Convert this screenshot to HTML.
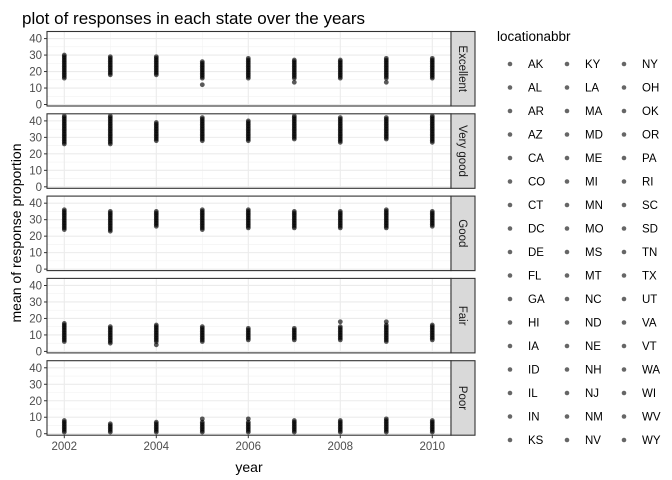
<!DOCTYPE html>
<html><head><meta charset="utf-8"><style>body{margin:0;background:#fff}svg{display:block;font-family:"Liberation Sans",sans-serif}</style></head>
<body>
<svg id="chart" width="672" height="480" xmlns="http://www.w3.org/2000/svg">
<text x="22" y="24" font-size="17" fill="#000">plot of responses in each state over the years</text>
<text transform="translate(21,233) rotate(-90)" text-anchor="middle" font-size="14" fill="#000">mean of response proportion</text>
<text x="249" y="472" text-anchor="middle" font-size="14" fill="#000">year</text>
<g id="panels"></g>
<g id="legend"></g>
</svg>
<script>
const years=[2002,2003,2004,2005,2006,2007,2008,2009,2010];
const panelNames=["Excellent","Very good","Good","Fair","Poor"];
const yTicks=[0,10,20,30,40];
const xTicks=[2002,2004,2006,2008,2010];
const states=["AK","AL","AR","AZ","CA","CO","CT","DC","DE","FL","GA","HI","IA","ID","IL","IN","KS","KY","LA","MA","MD","ME","MI","MN","MO","MS","MT","NC","ND","NE","NH","NJ","NM","NV","NY","OH","OK","OR","PA","RI","SC","SD","TN","TX","UT","VA","VT","WA","WI","WV","WY"];
const excellent=[[16,17,18,19,20,21,22,23,24,25,26,27,28,29,30],[18,19,20,21,22,23,24,25,26,27,28,29],[18,19,20,21,22,23,24,25,26,27,28,29],[12,16,17,18,19,20,21,22,23,24,25,26],[16,17,18,19,20,21,22,23,24,25,26,27,28],[13.5,16,17,18,19,20,21,22,23,24,25,26,27],[16,17,18,19,20,21,22,23,24,25,26,27],[13.5,16,17,18,19,20,21,22,23,24,25,26,27,28],[16,17,18,19,20,21,22,23,24,25,26,27,28]];
const veryGood=[[26,27,28,29,30,31,32,33,34,35,36,37,38,39,40,41,42,43],[26,27,28,29,30,31,32,33,34,35,36,37,38,39,40,41,42,43],[28,29,30,31,32,33,34,35,36,37,38,39],[28,29,30,31,32,33,34,35,36,37,38,39,40,41,42],[28,29,30,31,32,33,34,35,36,37,38,39,40],[29,30,31,32,33,34,35,36,37,38,39,40,41,42,43],[27,28,29,30,31,32,33,34,35,36,37,38,39,40,41,42],[29,30,31,32,33,34,35,36,37,38,39,40,41,42],[27,28,29,30,31,32,33,34,35,36,37,38,39,40,41,42,43]];
const good=[[24,25,26,27,28,29,30,31,32,33,34,35,36],[23,24,25,26,27,28,29,30,31,32,33,34,35],[26,27,28,29,30,31,32,33,34,35],[24,25,26,27,28,29,30,31,32,33,34,35,36],[25,26,27,28,29,30,31,32,33,34,35,36],[25,26,27,28,29,30,31,32,33,34,35],[25,26,27,28,29,30,31,32,33,34,35],[25,26,27,28,29,30,31,32,33,34,35,36],[26,27,28,29,30,31,32,33,34,35]];
const fair=[[6,7,8,9,10,11,12,13,14,15,16,17],[5,6,7,8,9,10,11,12,13,14,15],[4,6,7,8,9,10,11,12,13,14,15,16],[6,7,8,9,10,11,12,13,14,15],[7,8,9,10,11,12,13,14],[7,8,9,10,11,12,13,14],[7,8,9,10,11,12,13,14,15,18],[6,7,8,9,10,11,12,13,14,15,16,18],[7,8,9,10,11,12,13,14,15,16]];
const poor=[[1,2,3,4,5,6,7,8],[1,2,3,4,5,6],[1,2,3,4,5,6,7],[1,2,3,4,5,6,7,9],[1,2,3,4,5,6,7,9],[1,2,3,4,5,6,7,8],[1,2,3,4,5,6,7,8],[1,2,3,4,5,6,7,8,9],[1,2,3,4,5,6,7,8]];
const panelData=[excellent,veryGood,good,fair,poor];
const NS="http://www.w3.org/2000/svg";
function mk(t,a,p){const e=document.createElementNS(NS,t);for(const k in a)e.setAttribute(k,a[k]);p.appendChild(e);return e;}
const L=47,R=451,SW=24,PH=74.5,PITCH=82.3,T0=31.5;
const xs=v=>64.3+(v-2002)*46;
const ymin=-0.9,ymax=44.3;
const gp=document.getElementById('panels');
panelNames.forEach((name,pi)=>{
  const top=T0+pi*PITCH,bot=top+PH;
  const ys=v=>bot-(v-ymin)/(ymax-ymin)*PH;
  const g=mk('g',{},gp);
  
  
  mk('rect',{x:L,y:top,width:R-L,height:PH,fill:'#fff'},g);
  [5,15,25,35].forEach(v=>mk('line',{x1:L,x2:R,y1:ys(v),y2:ys(v),stroke:'#f2f2f2','stroke-width':0.6},g));
  [2003,2005,2007,2009].forEach(v=>mk('line',{x1:xs(v),x2:xs(v),y1:top,y2:bot,stroke:'#f2f2f2','stroke-width':0.6},g));
  yTicks.forEach(v=>mk('line',{x1:L,x2:R,y1:ys(v),y2:ys(v),stroke:'#ebebeb','stroke-width':1.1},g));
  xTicks.forEach(v=>mk('line',{x1:xs(v),x2:xs(v),y1:top,y2:bot,stroke:'#ebebeb','stroke-width':1.1},g));
  panelData[pi].forEach((col,yi)=>col.forEach(v=>{
    const c=mk('circle',{cx:xs(years[yi]),cy:ys(v),r:2.4,fill:'#000','fill-opacity':0.65},g);
    
    
  }));
  mk('rect',{x:L,y:top,width:R-L,height:PH,fill:'none',stroke:'#333','stroke-width':1.1},g);
  yTicks.forEach(v=>{
    mk('line',{x1:L-3,x2:L,y1:ys(v),y2:ys(v),stroke:'#333'},g);
    const t=mk('text',{x:L-5,y:ys(v)+4,'text-anchor':'end','font-size':11.5,fill:'#4d4d4d'},g);
    t.textContent=v;
    
    
  });
  const s=mk('rect',{x:R,y:top,width:SW,height:PH,fill:'#d9d9d9',stroke:'#333','stroke-width':1.1},g);
  
  
  const st=mk('text',{transform:`translate(${R+SW/2-4},${top+PH/2}) rotate(90)`,'text-anchor':'middle','font-size':11.5,fill:'#1a1a1a'},g);
  st.textContent=name;
  
  
  if(pi===4){
    xTicks.forEach(v=>{
      mk('line',{x1:xs(v),x2:xs(v),y1:bot,y2:bot+3,stroke:'#333'},g);
      const t=mk('text',{x:xs(v),y:bot+15,'text-anchor':'middle','font-size':11.5,fill:'#4d4d4d'},g);
      t.textContent=v;
      
      
    });
  }
});
const lg=document.getElementById('legend');


const lt=mk('text',{x:497,y:41,'font-size':13.5,fill:'#000'},lg);
lt.textContent='locationabbr';


states.forEach((s,i)=>{
  const c=Math.floor(i/17),r=i%17;
  const y=64+r*23.5,x=510+c*57;
  const g=mk('g',{},lg);
  
  
  mk('circle',{cx:x,cy:y,r:2.3,fill:'#000','fill-opacity':0.6},g);
  const t=mk('text',{x:x+18,y:y+4,'font-size':11.5,fill:'#000'},g);
  t.textContent=s;
});
</script>
</body></html>
